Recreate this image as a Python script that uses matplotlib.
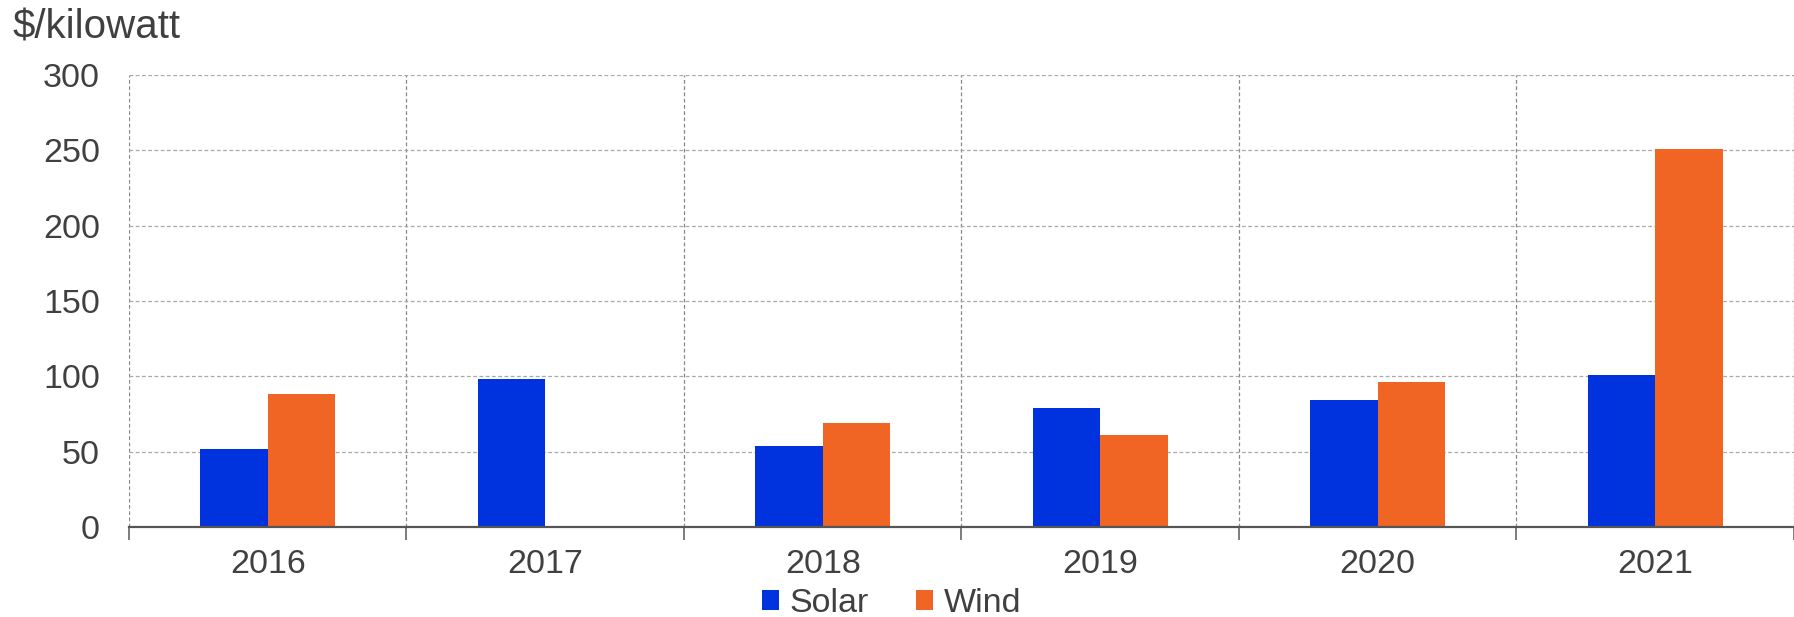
import matplotlib
matplotlib.use("Agg")
import matplotlib.pyplot as plt
import numpy as np

years = ["2016", "2017", "2018", "2019", "2020", "2021"]
solar = [52, 98, 54, 79, 84, 101]
wind = [88, 0, 69, 61, 96, 251]

C_SOLAR = "#0033DD"
C_WIND = "#F06424"
C_TEXT = "#404040"
C_GRID = "#A8A8A8"

plt.rcParams["font.family"] = ["Liberation Sans", "DejaVu Sans"]

fig = plt.figure(figsize=(17.94, 6.17), dpi=100)
ax = fig.add_axes([0.0719, 0.1459, 0.9281, 0.7325])

x = np.arange(len(years))
w = 0.243
ax.bar(x - w / 2, solar, w, color=C_SOLAR, label="Solar", zorder=3)
ax.bar(x + w / 2, wind, w, color=C_WIND, label="Wind", zorder=3)

ax.set_ylim(0, 300)
ax.set_xlim(-0.5, 5.47)
ax.set_yticks(range(0, 301, 50))
ax.set_xticks(x)
ax.set_xticklabels(years)
ax.set_xticks(np.arange(-0.5, 6, 1), minor=True)

ax.tick_params(axis="y", length=0, pad=21, labelsize=24.5, colors=C_TEXT)
ax.tick_params(axis="x", which="major", length=0, pad=16, labelsize=24.5,
               colors=C_TEXT)
ax.tick_params(axis="x", which="minor", length=9, width=1.2, color="#666666")

ax.grid(True, axis="y", color=C_GRID, linestyle=(0, (3, 2)), linewidth=0.9,
        zorder=0)
ax.grid(True, axis="x", which="minor", color="#888888",
        linestyle=(0, (3, 2)), linewidth=0.9, zorder=0)

for s in ["top", "right", "left"]:
    ax.spines[s].set_visible(False)
ax.spines["bottom"].set_color("#555555")
ax.spines["bottom"].set_linewidth(1.6)
ax.spines["bottom"].set_zorder(4)

fig.text(0.007, 0.956, "$/kilowatt", fontsize=29, color=C_TEXT,
         ha="left", va="center")

fig.legend(loc="center", bbox_to_anchor=(0.497, 0.022), ncol=2, frameon=False,
           fontsize=24.5, handlelength=0.5, handleheight=0.5,
           handletextpad=0.3, columnspacing=1.4, labelcolor=C_TEXT)

fig.savefig("out.png", dpi=100)
